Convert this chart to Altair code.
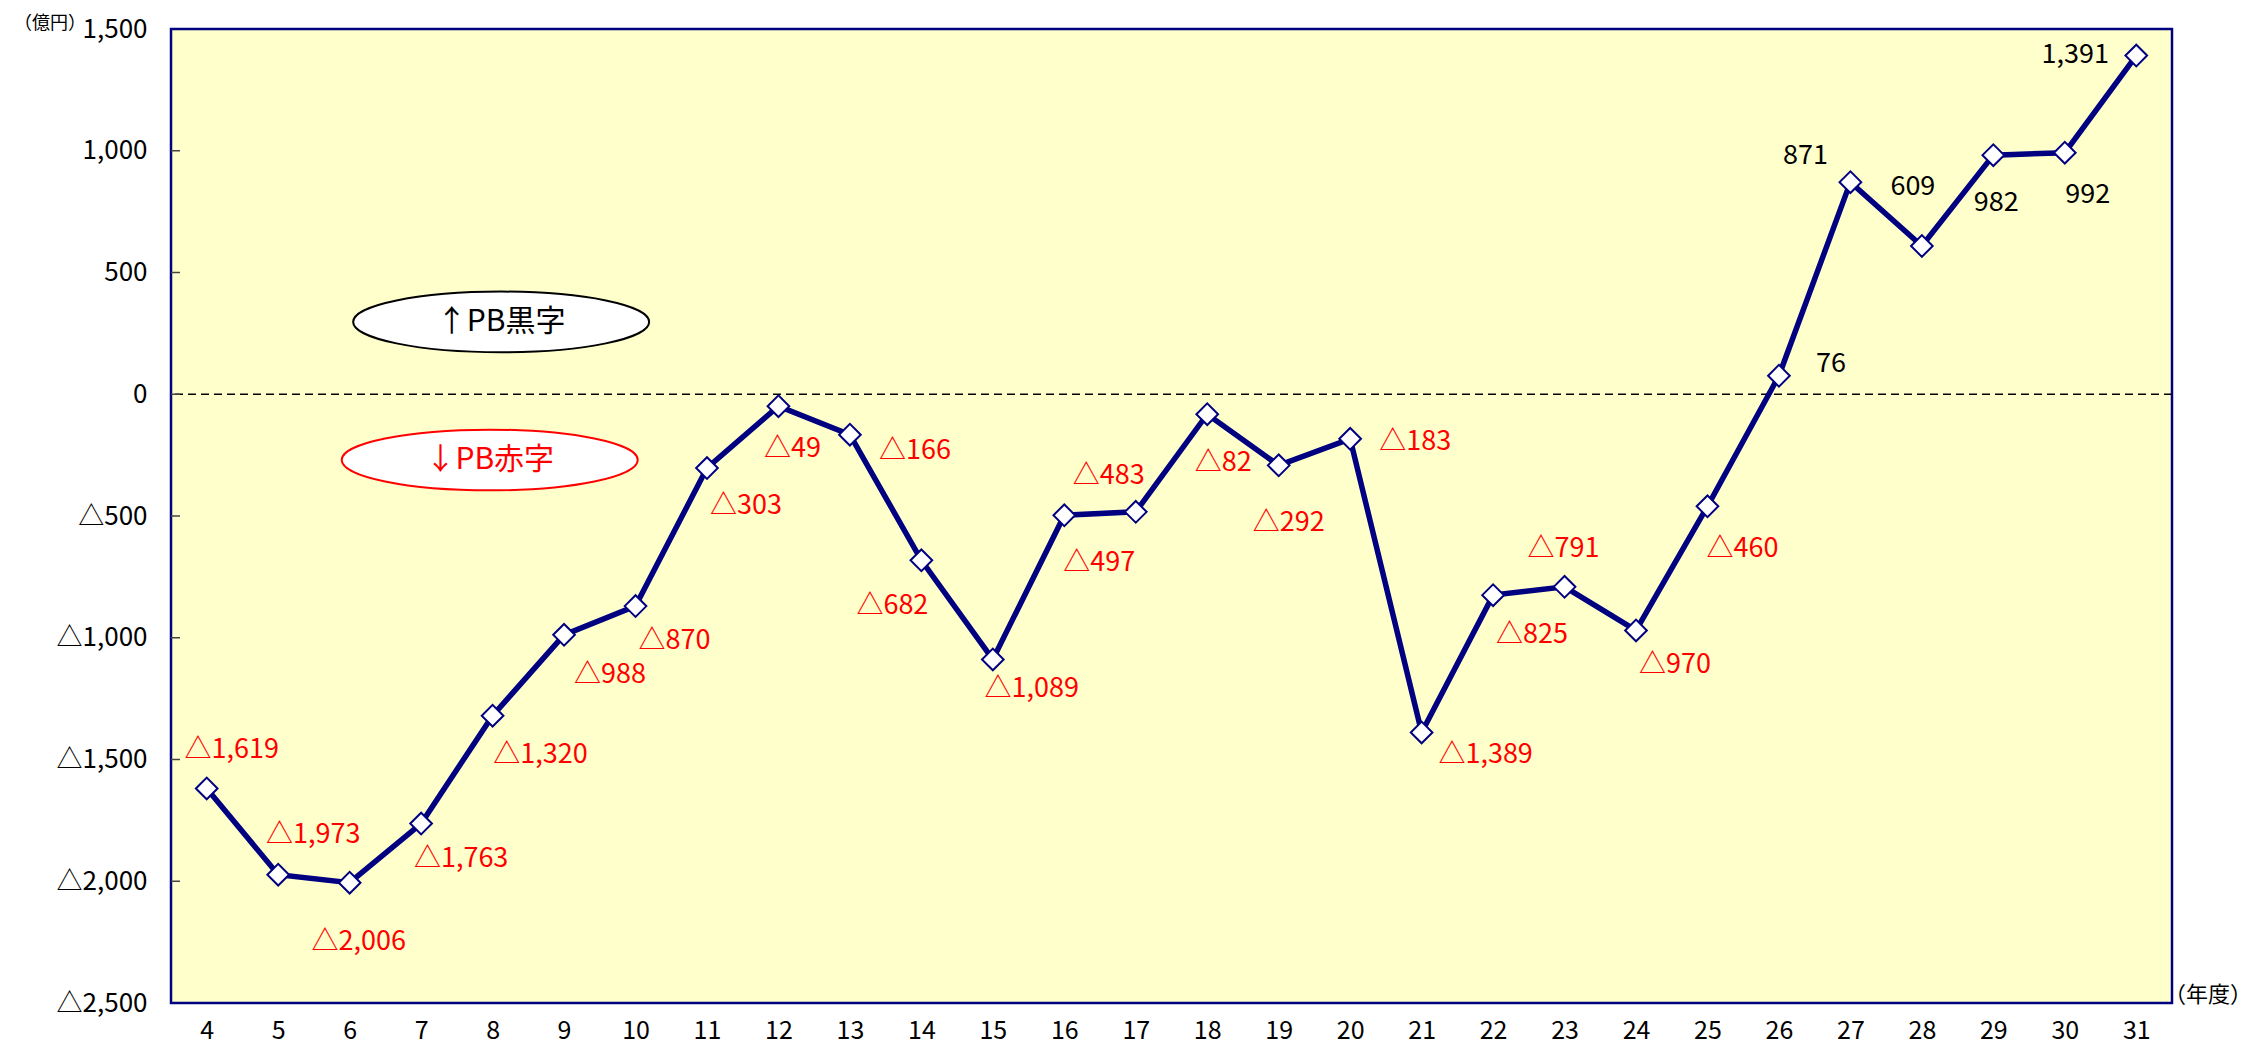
import altair as alt
import pandas as pd

# ---- data ----
years = list(range(4, 32))
values = [-1619, -1973, -2006, -1763, -1320, -988, -870, -303, -49, -166, -682, -1089,
          -497, -483, -82, -292, -183, -1389, -825, -791, -970, -460, 76, 871, 609, 982, 992, 1391]
y_ticks = [-2500, -2000, -1500, -1000, -500, 0, 500, 1000, 1500]

# label offsets from each point (pixels: right / down)
label_dx = [25, 35, 9, 40, 48, 46, 39, 39, 14, 65, -29, 39, 35, -27, 16, 10, 65, 64, 39, -1, 39, 35, 52, -45, -9, 3, 23, -61]
label_dy = [-38, -40, 59, 35, 39, 40, 35, 38, 43, 16, 46, 30, 48, -36, 49, 58, 3, 23, 40, -38, 35, 43, -12, -26, -59, 48, 42, -1]

# annotations (ellipses)
ann_text = ["↑PB黒字", "↓PB赤字"]
ann_x = [8.12, 7.96]
ann_y = [297, -270]
ann_color = ["black", "#FF0000"]

# ---- layout ----
W, H = 2001, 974
X_DOM = [3.5, 31.5]
Y_DOM = [-2500, 1500]
ux = (X_DOM[1] - X_DOM[0]) / W
uy = (Y_DOM[1] - Y_DOM[0]) / H
FONT = "Noto Sans CJK JP"
NAVY = "#000080"

df = pd.DataFrame({"year": years, "value": values})
df["label"] = [("△" if v < 0 else "") + f"{abs(v):,}" for v in values]
df["lx"] = [y + dx * ux for y, dx in zip(years, label_dx)]
df["ly"] = [v - dy * uy for v, dy in zip(values, label_dy)]
df["lcol"] = ["#FF0000" if v < 0 else "black" for v in values]

ann = pd.DataFrame({"x": ann_x, "y": ann_y, "text": ann_text, "col": ann_color})
ticks_df = pd.DataFrame({"t": [t for t in y_ticks if Y_DOM[0] < t < Y_DOM[1]]})
zero_df = pd.DataFrame({"z": [0]})

xs = alt.Scale(domain=X_DOM, nice=False, zero=False)
ys = alt.Scale(domain=Y_DOM, nice=False, zero=False)

base = alt.Chart(df)

x_axis = alt.Axis(values=years, format="d", grid=False, ticks=False, domain=False, title=None,
                  labelFont=FONT, labelFontSize=25, labelColor="black",
                  labelPadding=27, labelBaseline="middle", labelFlush=False)
y_axis = alt.Axis(values=y_ticks, grid=False, ticks=False, domain=False, title=None,
                  labelFont=FONT, labelFontSize=26, labelColor="black", labelPadding=24,
                  labelBaseline="middle", labelFlush=False,
                  labelExpr="datum.value < 0 ? '△' + format(-datum.value, ',') : format(datum.value, ',')")

zero_line = alt.Chart(zero_df).mark_rule(color="black", strokeWidth=1.5, strokeDash=[8, 5]).encode(
    y=alt.Y("z:Q", scale=ys, axis=y_axis))

tick_marks = alt.Chart(ticks_df).mark_rule(color="#444444", strokeWidth=1.5).encode(
    y=alt.Y("t:Q", scale=ys), x=alt.value(0), x2=alt.value(9))

line = base.mark_line(color=NAVY, strokeWidth=5.5).encode(
    x=alt.X("year:Q", scale=xs, axis=x_axis),
    y=alt.Y("value:Q", scale=ys))

points = base.mark_point(shape="diamond", size=470, filled=True, fill="white",
                         stroke=NAVY, strokeWidth=2, opacity=1).encode(
    x=alt.X("year:Q", scale=xs), y=alt.Y("value:Q", scale=ys))

labels = base.mark_text(font=FONT, fontSize=27, align="center", baseline="middle").encode(
    x=alt.X("lx:Q", scale=xs), y=alt.Y("ly:Q", scale=ys), text="label:N",
    color=alt.Color("lcol:N", scale=None))

ellipse_path = "M -1 0 A 1 0.205 0 1 1 1 0 A 1 0.205 0 1 1 -1 0 Z"
ellipses = alt.Chart(ann).mark_point(shape=ellipse_path, size=296 ** 2, filled=True, fill="white",
                                     strokeWidth=2, opacity=1).encode(
    x=alt.X("x:Q", scale=xs), y=alt.Y("y:Q", scale=ys),
    stroke=alt.Stroke("col:N", scale=None))

ell_text = alt.Chart(ann).mark_text(font=FONT, fontSize=30, align="center", baseline="middle").encode(
    x=alt.X("x:Q", scale=xs), y=alt.Y("y:Q", scale=ys), text="text:N",
    color=alt.Color("col:N", scale=None))

unit_df = pd.DataFrame({"a": ["（億円）"], "b": ["（年度）"]})
yunit = alt.Chart(unit_df).mark_text(font=FONT, fontSize=18, align="center", baseline="middle", color="black").encode(
    x=alt.value(-121), y=alt.value(-5), text="a:N")
xunit = alt.Chart(unit_df).mark_text(font=FONT, fontSize=22, align="center", baseline="middle", color="black").encode(
    x=alt.value(2037), y=alt.value(966), text="b:N")

chart = alt.layer(zero_line, tick_marks, line, points, labels, ellipses, ell_text, yunit, xunit).properties(
    width=W, height=H,
    autosize=alt.AutoSizeParams(type="none"),
    padding={"left": 163, "top": 21, "right": 85, "bottom": 42},
).configure_view(fill="#FFFFCC", stroke=NAVY, strokeWidth=2.5)

chart.save("out.html", embed_options={"renderer": "svg", "actions": False})
